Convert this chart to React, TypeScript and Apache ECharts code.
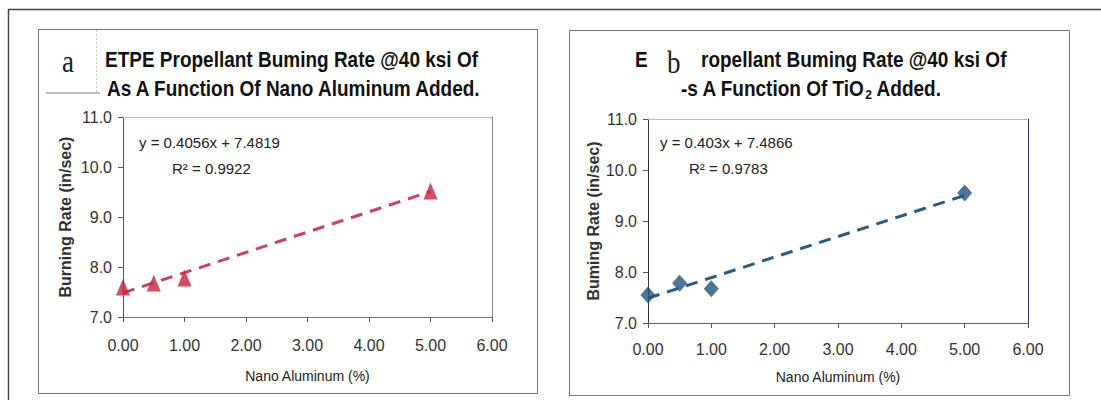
import React, { useEffect, useRef } from "react";
import * as echarts from "echarts";

// ---- data ----
const X_TICK_LABELS = ["0.00", "1.00", "2.00", "3.00", "4.00", "5.00", "6.00"];
const Y_TICK_LABELS = ["7.0", "8.0", "9.0", "10.0", "11.0"];

const aluminumPct = [0, 0.5, 1, 5];
const rateAluminum = [7.6, 7.68, 7.78, 9.52];

const tio2Pct = [0, 0.5, 1, 5];
const rateTiO2 = [7.55, 7.78, 7.67, 9.55];

const trendX = [0, 5];
const trendAluminum = [7.4819, 9.5099];
const trendTiO2 = [7.4866, 9.5016];

const FONT = "'Liberation Sans', Arial, sans-serif";
const SERIF = "'Liberation Serif', 'Times New Roman', serif";

const RED = "#c8223f";
const RED_LINE = "#cc4360";
const BLUE = "#1f5479";
const BLUE_LINE = "#2a5b82";

const pairs = (xs: number[], ys: number[]) => xs.map((x, i) => [x, ys[i]]);

function xAxes(grid: number, axisColor: string, margin: number, nameGap: number) {
  return [
    {
      gridIndex: grid,
      type: "value",
      position: "bottom",
      min: 0,
      max: 6,
      interval: 1,
      axisLine: { show: true, onZero: false, lineStyle: { color: axisColor, width: 1 } },
      axisTick: { show: true, length: 5, lineStyle: { color: "#555" } },
      axisLabel: {
        formatter: (v: number) => X_TICK_LABELS[Math.round(v)],
        fontSize: 16,
        color: "#333",
        margin,
        fontFamily: FONT,
      },
      splitLine: { show: false },
      name: "Nano Aluminum (%)",
      nameLocation: "middle",
      nameGap,
      nameTextStyle: { fontSize: 14, color: "#222", fontFamily: FONT },
    },
    {
      gridIndex: grid,
      type: "value",
      position: "top",
      min: 0,
      max: 6,
      interval: 1,
      axisLine: { show: true, onZero: false, lineStyle: { color: "#aaa", type: "dotted" } },
      axisTick: { show: false },
      axisLabel: { show: false },
      splitLine: { show: false },
    },
  ];
}

function yAxes(grid: number, axisColor: string, rightColor: string, name: string, nameGap: number) {
  return [
    {
      gridIndex: grid,
      type: "value",
      position: "left",
      min: 7,
      max: 11,
      interval: 1,
      axisLine: { show: true, onZero: false, lineStyle: { color: axisColor, width: 1 } },
      axisTick: { show: true, length: 5, lineStyle: { color: "#555" } },
      axisLabel: {
        formatter: (v: number) => Y_TICK_LABELS[Math.round(v - 7)],
        fontSize: 16,
        color: "#333",
        margin: 11,
        fontFamily: FONT,
      },
      splitLine: { show: false },
      name,
      nameLocation: "middle",
      nameGap,
      nameTextStyle: { fontSize: 16, fontWeight: "bold", color: "#333", fontFamily: FONT },
    },
    {
      gridIndex: grid,
      type: "value",
      position: "right",
      min: 7,
      max: 11,
      interval: 1,
      axisLine: { show: true, onZero: false, lineStyle: { color: rightColor, width: 1 } },
      axisTick: { show: false },
      axisLabel: { show: false },
      splitLine: { show: false },
    },
  ];
}

const titleStyle = (text: string, x: number, y: number) => ({
  type: "text",
  x,
  y,
  scaleY: 1.12,
  style: {
    text,
    fontSize: 19,
    fontWeight: "bold",
    fontFamily: FONT,
    fill: "#111",
    verticalAlign: "middle",
    align: "left",
  },
});

const plainText = (text: string, x: number, y: number, size = 15) => ({
  type: "text",
  x,
  y,
  style: {
    text,
    fontSize: size,
    fontFamily: FONT,
    fill: "#222",
    verticalAlign: "middle",
    align: "left",
  },
});

export default function App() {
  const ref = useRef<HTMLDivElement>(null);

  useEffect(() => {
    if (!ref.current) return;
    const chart = echarts.init(ref.current, undefined, { renderer: "svg" });
    const option: any = {
      animation: false,
      backgroundColor: "#ffffff",
      grid: [
        { left: 123, top: 117, width: 369, height: 200 },
        { left: 648, top: 119, width: 380, height: 204 },
      ],
      xAxis: [...xAxes(0, "#a86070", 20, 52), ...xAxes(1, "#4d6382", 18, 47)],
      yAxis: [
        ...yAxes(0, "#555", "#888", "Burning Rate (in/sec)", 50),
        ...yAxes(1, "#334", "#223a6a", "Buming Rate (in/sec)", 46),
      ],
      series: [
        {
          type: "line",
          xAxisIndex: 0,
          yAxisIndex: 0,
          data: pairs(trendX, trendAluminum),
          showSymbol: false,
          symbol: "none",
          lineStyle: { color: RED_LINE, width: 3, type: [12, 8] },
          z: 2,
        },
        {
          type: "scatter",
          xAxisIndex: 0,
          yAxisIndex: 0,
          data: pairs(aluminumPct, rateAluminum),
          symbol: "triangle",
          symbolSize: [14, 17],
          itemStyle: { color: RED },
          z: 3,
        },
        {
          type: "line",
          xAxisIndex: 2,
          yAxisIndex: 2,
          data: pairs(trendX, trendTiO2),
          showSymbol: false,
          symbol: "none",
          lineStyle: { color: BLUE_LINE, width: 3, type: [12, 8] },
          z: 2,
        },
        {
          type: "scatter",
          xAxisIndex: 2,
          yAxisIndex: 2,
          data: pairs(tio2Pct, rateTiO2),
          symbol: "diamond",
          symbolSize: [15, 17],
          itemStyle: { color: BLUE },
          z: 3,
        },
      ],
      graphic: [
        // outer frame
        { type: "line", shape: { x1: 8, y1: 9.5, x2: 1101, y2: 9.5 }, style: { stroke: "#444", lineWidth: 1.5 } },
        { type: "line", shape: { x1: 8.5, y1: 9, x2: 8.5, y2: 400 }, style: { stroke: "#444", lineWidth: 1.5 } },
        // panel boxes
        { type: "rect", shape: { x: 38.5, y: 29.5, width: 499, height: 364 }, style: { fill: "none", stroke: "#777", lineWidth: 1 } },
        { type: "rect", shape: { x: 569.5, y: 30.5, width: 500, height: 365 }, style: { fill: "none", stroke: "#777", lineWidth: 1 } },
        // overlay marks around label a
        { type: "line", shape: { x1: 96.5, y1: 30, x2: 96.5, y2: 93 }, style: { stroke: "#ccc", lineWidth: 1, lineDash: [2, 2] } },
        { type: "line", shape: { x1: 46, y1: 93, x2: 100, y2: 93 }, style: { stroke: "#bbb", lineWidth: 2 } },
        // panel a title
        { type: "text", x: 62, y: 61, scaleY: 1.2, style: { text: "a", fontSize: 27, fontFamily: SERIF, fill: "#222", verticalAlign: "middle" } },
        titleStyle("ETPE Propellant Buming Rate @40 ksi Of", 105, 60),
        titleStyle("As A Function Of Nano Aluminum Added.", 107, 89),
        // panel b title
        titleStyle("E", 635, 60),
        { type: "text", x: 667, y: 62, scaleY: 1.2, style: { text: "b", fontSize: 27, fontFamily: SERIF, fill: "#222", verticalAlign: "middle" } },
        titleStyle("ropellant Buming Rate @40 ksi Of", 701, 60),
        {
          type: "text",
          x: 681,
          y: 89,
          scaleY: 1.12,
          style: {
            text: "{t|-s A Function Of TiO}{s|2}{t| Added.}",
            verticalAlign: "middle",
            align: "left",
            fill: "#111",
            rich: {
              t: { fontSize: 19, fontWeight: "bold", fontFamily: FONT, fill: "#111" },
              s: { fontSize: 12, fontWeight: "bold", fontFamily: FONT, fill: "#111", padding: [10, 0, 0, 0] },
            },
          },
        },
        // trend equations
        plainText("y = 0.4056x + 7.4819", 139, 142),
        plainText("R² = 0.9922", 172, 168),
        plainText("y = 0.403x + 7.4866", 660, 142),
        plainText("R² = 0.9783", 689, 168),
      ],
    };
    chart.setOption(option);
    return () => chart.dispose();
  }, []);

  return (
    <div
      ref={ref}
      style={{ position: "fixed", left: 0, top: 0, width: 1101, height: 400, background: "#fff" }}
    />
  );
}
